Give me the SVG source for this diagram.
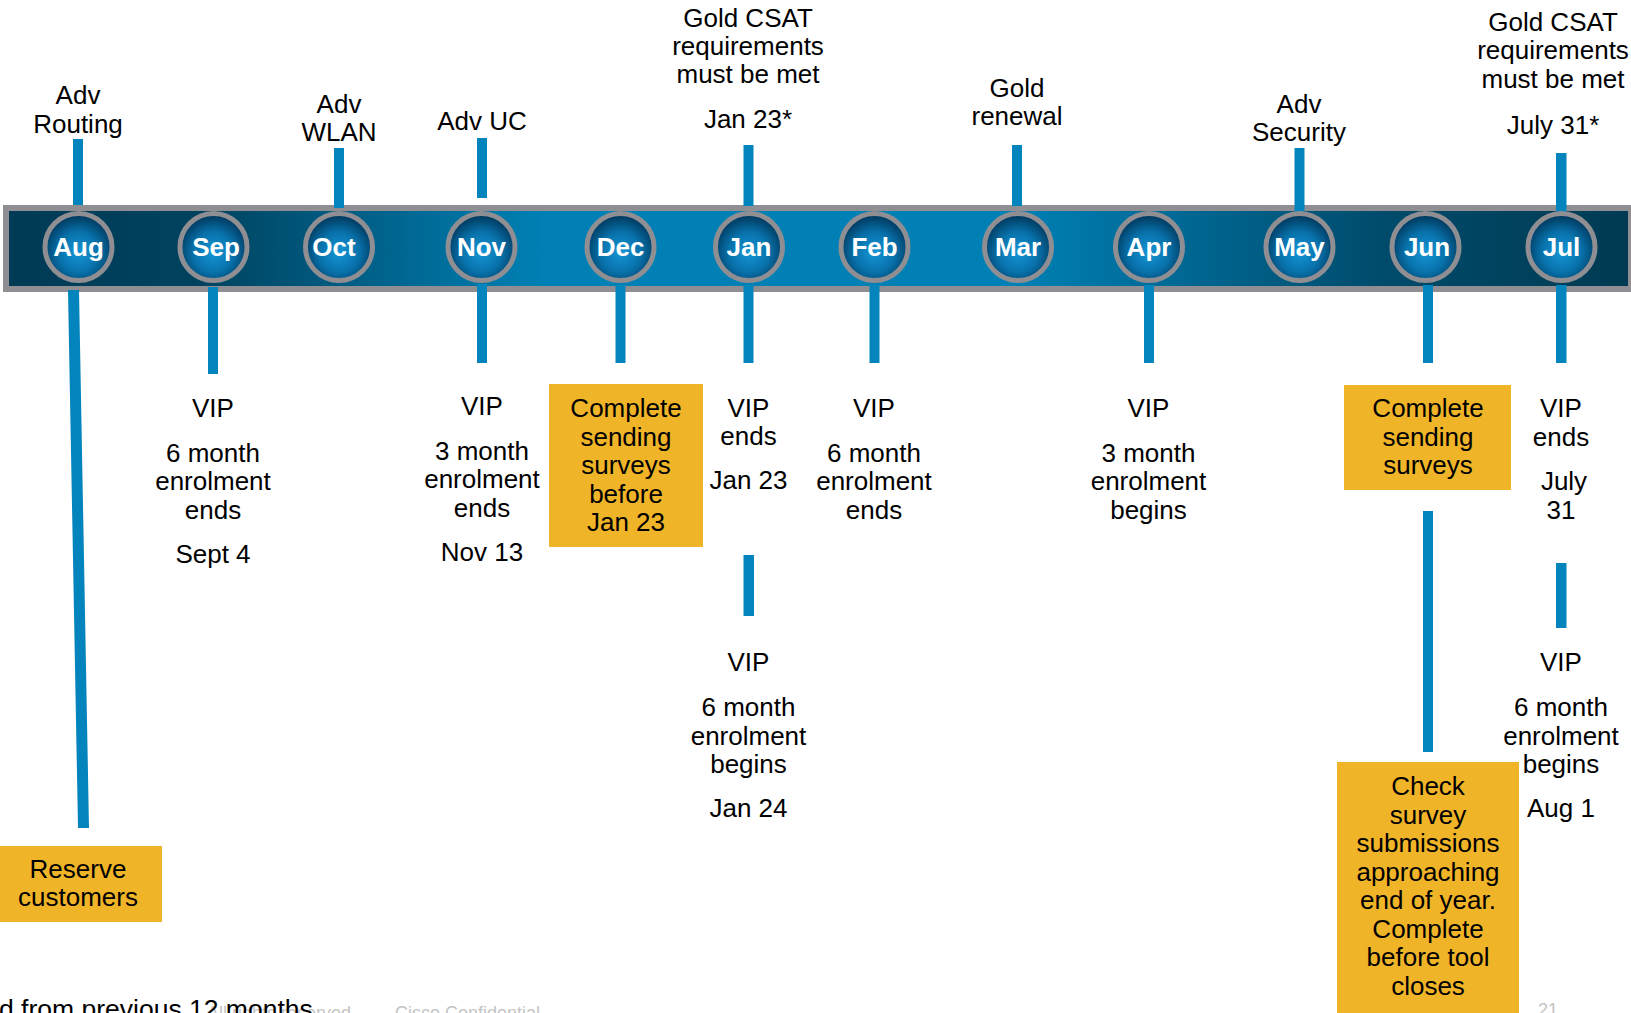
<svg xmlns="http://www.w3.org/2000/svg" width="1631" height="1013" viewBox="0 0 1631 1013">
<style>
text{font-family:"Liberation Sans",Arial,sans-serif;font-size:26px;fill:#000;text-anchor:middle}
.m{font-weight:bold;fill:#fff}
.stub{fill:#0384bc}
.box{fill:#f0b429}
.ring{stroke:#8e8e93;stroke-width:5;fill:url(#ball)}
.foot{font-size:18px;fill:#c4c4c4;text-anchor:start}
</style>
<defs>
<linearGradient id="barg" x1="0" y1="0" x2="1" y2="0">
<stop offset="0" stop-color="#003a55"/>
<stop offset="0.12" stop-color="#00435f"/>
<stop offset="0.33" stop-color="#0080b5"/>
<stop offset="0.62" stop-color="#0080b5"/>
<stop offset="0.85" stop-color="#004b6b"/>
<stop offset="1" stop-color="#003a52"/>
</linearGradient>
<radialGradient id="ball" cx="50%" cy="58%" r="55%">
<stop offset="0" stop-color="#1596d6"/>
<stop offset="0.55" stop-color="#0871aa"/>
<stop offset="1" stop-color="#00395e"/>
</radialGradient>
</defs>
<rect x="0" y="0" width="1631" height="1013" fill="#fff"/>

<g id="footer">
<text class="foot" x="356" y="1019" style="text-anchor:end">All rights reserved.</text>
<text class="foot" x="395" y="1019">Cisco Confidential</text>
<text class="foot" x="1538" y="1016">21</text>
<text x="-1" y="1018" style="text-anchor:start;font-size:26.5px">d from previous 12 months</text>
</g>

<g id="timeline-bar">
<rect x="3" y="205" width="1631" height="87" fill="#8e8e93"/>
<rect x="9" y="211" width="1619" height="75" fill="url(#barg)"/>
</g>

<g id="connectors">
<rect class="stub" x="73" y="139" width="10" height="66"/>
<rect class="stub" x="334" y="148" width="10" height="60"/>
<rect class="stub" x="477" y="138" width="10" height="60"/>
<rect class="stub" x="743.5" y="145" width="10" height="61"/>
<rect class="stub" x="1012" y="145" width="10" height="61"/>
<rect class="stub" x="1294.5" y="148" width="10" height="65"/>
<rect class="stub" x="1556" y="153" width="10.5" height="65"/>
<polygon class="stub" points="68,290 79,290 89,828 78,828"/>
<rect class="stub" x="208" y="287" width="10" height="87"/>
<rect class="stub" x="477" y="284" width="10" height="79"/>
<rect class="stub" x="615.5" y="285" width="10" height="78"/>
<rect class="stub" x="743.5" y="285" width="10" height="78"/>
<rect class="stub" x="869.5" y="285" width="10" height="78"/>
<rect class="stub" x="1144" y="285" width="10" height="78"/>
<rect class="stub" x="1423" y="285" width="10" height="78"/>
<rect class="stub" x="1556" y="285" width="10.5" height="78"/>
<rect class="stub" x="743.5" y="555" width="10.5" height="61"/>
<rect class="stub" x="1423" y="511" width="10" height="241"/>
<rect class="stub" x="1556" y="563" width="10.5" height="65"/>
</g>

<g id="month-aug"><circle class="ring" cx="78.5" cy="247" r="33.5"/><text class="m" x="78.5" y="256">Aug</text></g>
<g id="month-sep"><circle class="ring" cx="213.5" cy="247" r="33.5"/><text class="m" x="216" y="256">Sep</text></g>
<g id="month-oct"><circle class="ring" cx="339" cy="247" r="33.5"/><text class="m" x="334" y="256">Oct</text></g>
<g id="month-nov"><circle class="ring" cx="481.5" cy="247" r="33.5"/><text class="m" x="481.5" y="256">Nov</text></g>
<g id="month-dec"><circle class="ring" cx="620.5" cy="247" r="33.5"/><text class="m" x="620.5" y="256">Dec</text></g>
<g id="month-jan"><circle class="ring" cx="749" cy="247" r="33.5"/><text class="m" x="749" y="256">Jan</text></g>
<g id="month-feb"><circle class="ring" cx="874.5" cy="247" r="33.5"/><text class="m" x="874.5" y="256">Feb</text></g>
<g id="month-mar"><circle class="ring" cx="1018" cy="247" r="33.5"/><text class="m" x="1018" y="256">Mar</text></g>
<g id="month-apr"><circle class="ring" cx="1149" cy="247" r="33.5"/><text class="m" x="1149" y="256">Apr</text></g>
<g id="month-may"><circle class="ring" cx="1299.5" cy="247" r="33.5"/><text class="m" x="1299.5" y="256">May</text></g>
<g id="month-jun"><circle class="ring" cx="1425.5" cy="247" r="33.5"/><text class="m" x="1427" y="256">Jun</text></g>
<g id="month-jul"><circle class="ring" cx="1561.5" cy="247" r="33.5"/><text class="m" x="1561.5" y="256">Jul</text></g>

<g id="label-adv-routing"><text x="78" y="104">Adv</text><text x="78" y="133">Routing</text></g>
<g id="label-adv-wlan"><text x="339" y="113">Adv</text><text x="339" y="141">WLAN</text></g>
<g id="label-adv-uc"><text x="482" y="130">Adv UC</text></g>
<g id="label-gold-csat-jan"><text x="748" y="27">Gold CSAT</text><text x="748" y="55">requirements</text><text x="748" y="83">must be met</text><text x="748" y="128">Jan 23*</text></g>
<g id="label-gold-renewal"><text x="1017" y="96.5">Gold</text><text x="1017" y="125">renewal</text></g>
<g id="label-adv-security"><text x="1299" y="113">Adv</text><text x="1299" y="141">Security</text></g>
<g id="label-gold-csat-jul"><text x="1553" y="31">Gold CSAT</text><text x="1553" y="59">requirements</text><text x="1553" y="87.5">must be met</text><text x="1553" y="134">July 31*</text></g>

<g id="label-sep"><text x="213" y="417">VIP</text><text x="213" y="462">6 month</text><text x="213" y="490">enrolment</text><text x="213" y="518.5">ends</text><text x="213" y="563">Sept 4</text></g>
<g id="label-nov"><text x="482" y="415">VIP</text><text x="482" y="459.5">3 month</text><text x="482" y="488">enrolment</text><text x="482" y="516.5">ends</text><text x="482" y="561">Nov 13</text></g>
<g id="box-dec"><rect class="box" x="549" y="384" width="154" height="163"/><text x="626" y="417">Complete</text><text x="626" y="445.5">sending</text><text x="626" y="474">surveys</text><text x="626" y="502.5">before</text><text x="626" y="531">Jan 23</text></g>
<g id="label-jan-ends"><text x="748.5" y="417">VIP</text><text x="748.5" y="445">ends</text><text x="748.5" y="489">Jan 23</text></g>
<g id="label-jan-begins"><text x="748.5" y="671">VIP</text><text x="748.5" y="716">6 month</text><text x="748.5" y="744.5">enrolment</text><text x="748.5" y="773">begins</text><text x="748.5" y="817">Jan 24</text></g>
<g id="label-feb"><text x="874" y="417">VIP</text><text x="874" y="461.5">6 month</text><text x="874" y="490">enrolment</text><text x="874" y="518.5">ends</text></g>
<g id="label-apr"><text x="1148.5" y="417">VIP</text><text x="1148.5" y="462">3 month</text><text x="1148.5" y="490">enrolment</text><text x="1148.5" y="518.5">begins</text></g>
<g id="box-jun"><rect class="box" x="1344" y="385" width="167" height="105"/><text x="1428" y="417">Complete</text><text x="1428" y="445.5">sending</text><text x="1428" y="474">surveys</text></g>
<g id="label-jul-ends"><text x="1561" y="417">VIP</text><text x="1561" y="445.5">ends</text><text x="1564" y="490">July</text><text x="1561" y="518.5">31</text></g>
<g id="label-jul-begins"><text x="1561" y="671">VIP</text><text x="1561" y="716">6 month</text><text x="1561" y="744.5">enrolment</text><text x="1561" y="773">begins</text><text x="1561" y="817">Aug 1</text></g>
<g id="box-aug"><rect class="box" x="0" y="846" width="162" height="76"/><text x="78" y="878">Reserve</text><text x="78" y="906">customers</text></g>
<g id="box-jun-check"><rect class="box" x="1337" y="762" width="182" height="260"/><text x="1428" y="795">Check</text><text x="1428" y="823.5">survey</text><text x="1428" y="852">submissions</text><text x="1428" y="880.5">approaching</text><text x="1428" y="909">end of year.</text><text x="1428" y="937.5">Complete</text><text x="1428" y="966">before tool</text><text x="1428" y="994.5">closes</text></g>
</svg>
